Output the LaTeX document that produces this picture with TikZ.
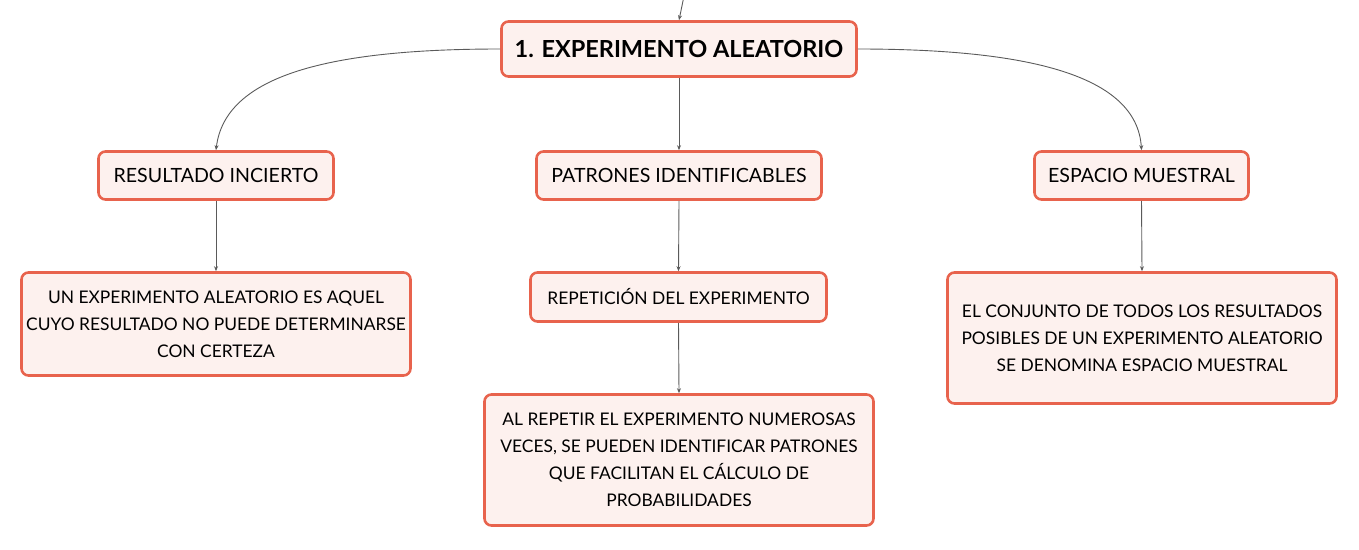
\documentclass[tikz,border=0pt]{standalone}
\usepackage{fontspec}
\setmainfont{Lato}
\usepackage{tikz}
\usetikzlibrary{positioning, arrows.meta}
\definecolor{boxline}{HTML}{E8634D}
\definecolor{boxfill}{HTML}{FDF1EE}
\definecolor{linkgray}{HTML}{5A5A5A}
\tikzstyle{mybox} = [draw=boxline, fill=boxfill, line width=2.6pt,
    rectangle, rounded corners=7pt, align=center, text=black, inner sep=0pt]
\tikzstyle{link} = [draw=linkgray, line width=0.9pt, -{Stealth[length=5pt,width=4pt]}]
\tikzstyle{every node}=[font=\fontsize{17.4}{27}\selectfont]

\begin{document}
\begin{tikzpicture}[x=1pt,y=-1pt]

	\useasboundingbox (0,0) rectangle (1359,549);

	% centre
	\node [mybox, minimum width=355pt, minimum height=55pt,
		font=\fontsize{23.5}{28}\selectfont\bfseries] at (679,49) (title) {1. EXPERIMENTO ALEATORIO};
	\coordinate (top) at (684,-4);

	% niveau 1
	\node [mybox, minimum width=235pt, minimum height=48pt,
		font=\fontsize{19.6}{27}\selectfont] at (216,175.5) (res) {RESULTADO INCIERTO};
	\node [mybox, minimum width=285pt, minimum height=48pt,
		font=\fontsize{19.6}{27}\selectfont] at (679,175.5) (pat) {PATRONES IDENTIFICABLES};
	\node [mybox, minimum width=214pt, minimum height=48pt,
		font=\fontsize{19.6}{27}\selectfont] at (1141.5,175.5) (esp) {ESPACIO MUESTRAL};

	% niveau 2
	\node [mybox, minimum width=389pt, minimum height=103pt] at (216,324) (def)
		{UN EXPERIMENTO ALEATORIO ES AQUEL\\CUYO RESULTADO NO PUEDE DETERMINARSE\\CON CERTEZA};
	\node [mybox, minimum width=296pt, minimum height=49pt] at (678.5,297) (rep)
		{REPETICIÓN DEL EXPERIMENTO};
	\node [mybox, minimum width=389pt, minimum height=131pt] at (1142,338) (conj)
		{EL CONJUNTO DE TODOS LOS RESULTADOS\\POSIBLES DE UN EXPERIMENTO ALEATORIO\\SE DENOMINA ESPACIO MUESTRAL};

	% niveau 3
	\node [mybox, minimum width=389pt, minimum height=131pt] at (679,460) (rpt)
		{AL REPETIR EL EXPERIMENTO NUMEROSAS\\VECES, SE PUEDEN IDENTIFICAR PATRONES\\QUE FACILITAN EL CÁLCULO DE\\PROBABILIDADES};

	% liens
	\draw[link] (top) .. controls (682,6) .. (title.north);
	\draw[link] (title.west) .. controls (330,49) and (225,75) .. (res.north);
	\draw[link] (title.south) -- (pat.north);
	\draw[link] (title.east) .. controls (1028,49) and (1137,75) .. (esp.north);
	\draw[link] (res.south) -- (def.north);
	\draw[link] (pat.south) -- (rep.north);
	\draw[link] (rep.south) -- (rpt.north);
	\draw[link] (esp.south) -- (conj.north);
\end{tikzpicture}
\end{document}
